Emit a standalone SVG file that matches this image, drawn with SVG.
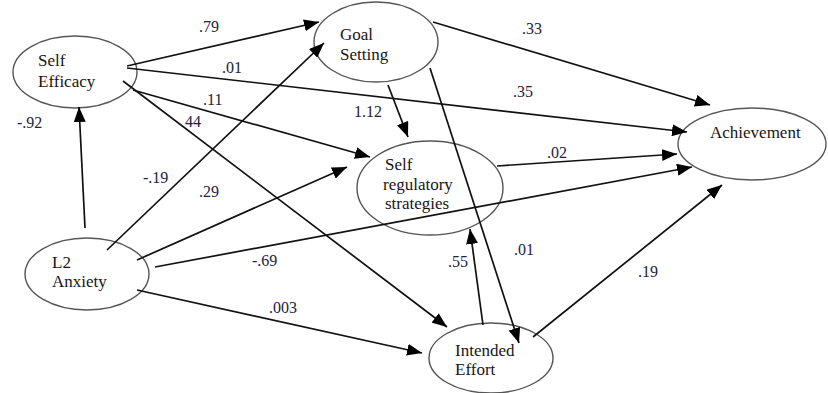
<svg xmlns="http://www.w3.org/2000/svg" width="828" height="393" viewBox="0 0 828 393">
<style>
.node ellipse{fill:#fff;stroke:#555;stroke-width:1.4}
.node text{font-size:17px;fill:#1a1414}
.edges line{stroke:#111;stroke-width:1.7;marker-end:url(#arr)}
.lbl{font-size:16px;fill:#22223a}
</style>
<defs>
<marker id="arr" markerUnits="userSpaceOnUse" markerWidth="15" markerHeight="12" refX="15" refY="6" orient="auto">
<path d="M0,0 L15,6 L0,12 z" fill="#000"/>
</marker>
</defs>
<rect width="828" height="393" fill="#fff"/>
<g font-family="Liberation Serif, Times New Roman, serif">
<g id="node-self-efficacy" class="node">
<ellipse cx="75" cy="72" rx="62" ry="36"/>
<text x="38" y="66">Self</text>
<text x="38" y="87">Efficacy</text>
</g>
<g id="node-goal-setting" class="node">
<ellipse cx="376" cy="42" rx="62" ry="40"/>
<text x="340" y="40">Goal</text>
<text x="340" y="60">Setting</text>
</g>
<g id="node-achievement" class="node">
<ellipse cx="752" cy="144" rx="74" ry="36"/>
<text x="710" y="138">Achievement</text>
</g>
<g id="node-srs" class="node">
<ellipse cx="430" cy="188" rx="73" ry="47"/>
<text x="385" y="170">Self</text>
<text x="383" y="190">regulatory</text>
<text x="385" y="209">strategies</text>
</g>
<g id="node-l2-anxiety" class="node">
<ellipse cx="87" cy="274" rx="62" ry="36"/>
<text x="52" y="268">L2</text>
<text x="52" y="287">Anxiety</text>
</g>
<g id="node-intended-effort" class="node">
<ellipse cx="491" cy="358" rx="62" ry="35"/>
<text x="455" y="356">Intended</text>
<text x="455" y="375">Effort</text>
</g>
</g>
<g id="connectors" class="edges">
<line x1="127" y1="66" x2="319" y2="22"/>
<line x1="127" y1="68" x2="687" y2="132"/>
<line x1="133" y1="90" x2="370" y2="157"/>
<line x1="123" y1="81" x2="447" y2="327"/>
<line x1="388" y1="85" x2="408" y2="137"/>
<line x1="430" y1="68" x2="519" y2="343"/>
<line x1="433" y1="22" x2="710" y2="105"/>
<line x1="497" y1="166" x2="677" y2="154"/>
<line x1="85" y1="228" x2="79" y2="107"/>
<line x1="107" y1="250" x2="324" y2="43"/>
<line x1="137" y1="260" x2="347" y2="167"/>
<line x1="155" y1="267" x2="692" y2="167"/>
<line x1="137" y1="290" x2="422" y2="353"/>
<line x1="483" y1="325" x2="470" y2="229"/>
<line x1="533" y1="337" x2="722" y2="185"/>
</g>
<g id="labels" font-family="Liberation Serif, Times New Roman, serif">
<text class="lbl" x="199" y="32">.79</text>
<text class="lbl" x="222" y="73">.01</text>
<text class="lbl" x="203" y="105">.11</text>
<text class="lbl" x="185" y="127">44</text>
<text class="lbl" x="17" y="128">-.92</text>
<text class="lbl" x="143" y="183">-.19</text>
<text class="lbl" x="199" y="197">.29</text>
<text class="lbl" x="354" y="117">1.12</text>
<text class="lbl" x="522" y="34">.33</text>
<text class="lbl" x="513" y="97">.35</text>
<text class="lbl" x="547" y="158">.02</text>
<text class="lbl" x="252" y="266">-.69</text>
<text class="lbl" x="269" y="313">.003</text>
<text class="lbl" x="448" y="267">.55</text>
<text class="lbl" x="514" y="255">.01</text>
<text class="lbl" x="638" y="277">.19</text>
</g>
</svg>
